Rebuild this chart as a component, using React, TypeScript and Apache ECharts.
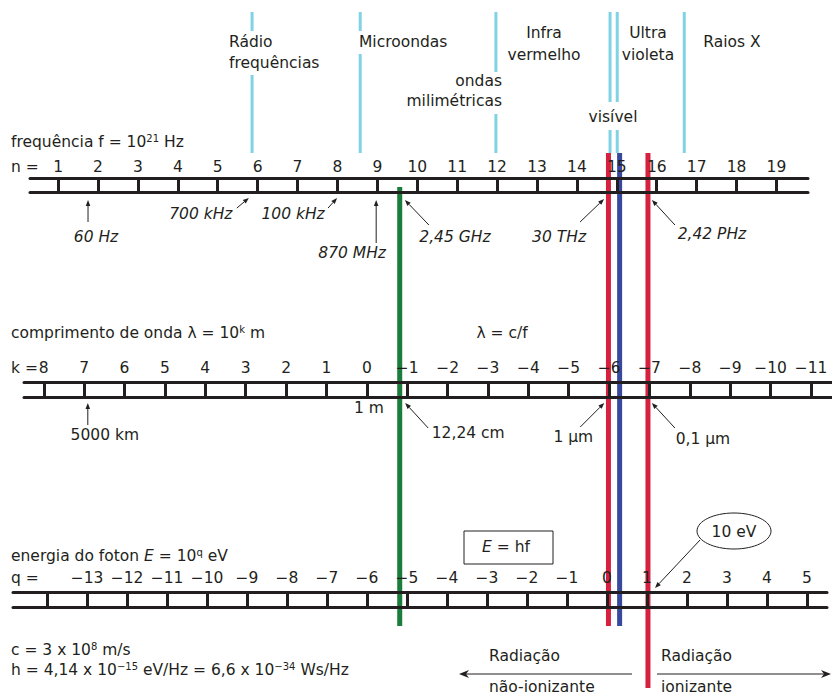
import React, { useEffect, useRef } from "react";
import * as echarts from "echarts";

// ---- data ----
const nTicks = [1, 2, 3, 4, 5, 6, 7, 8, 9, 10, 11, 12, 13, 14, 15, 16, 17, 18, 19];
const nLabels = [1, 2, 3, 4, 5, 6, 7, 8, 9, 10, 11, 12, 13, 14, 15, 16, 17, 18, 19];
const kTicks = [8, 7, 6, 5, 4, 3, 2, 1, 0, -1, -2, -3, -4, -5, -6, -7, -8, -9, -10, -11];
const kLabels = [8, 7, 6, 5, 4, 3, 2, 1, 0, -1, -2, -3, -4, -5, -6, -7, -8, -9, -10, -11];
const qTicks = [-14, -13, -12, -11, -10, -9, -8, -7, -6, -5, -4, -3, -2, -1, 0, 1, 2, 3, 4, 5];
const qLabels = [-13, -12, -11, -10, -9, -8, -7, -6, -5, -4, -3, -2, -1, 0, 1, 2, 3, 4, 5];

// band boundaries (cyan) on the frequency scale, in n
const bandBoundsN = [5.86, 8.57, 11.97, 14.83, 15.01, 16.69];
// highlighted lines, in n
const greenLineN = 9.56;
const redLinesN = [14.79, 15.78];
const blueLineN = 15.07;

const freqMarks = [
  { label: "60 Hz", n: 1.75 },
  { label: "700 kHz", n: 5.78 },
  { label: "100 kHz", n: 7.99 },
  { label: "870 MHz", n: 8.97 },
  { label: "2,45 GHz", n: 9.69 },
  { label: "30 THz", n: 14.68 },
  { label: "2,42 PHz", n: 15.88 },
];
const waveMarks = [
  { label: "5000 km", k: 6.91 },
  { label: "1 m", k: 0 },
  { label: "12,24 cm", k: -0.95 },
  { label: "1 μm", k: -5.88 },
  { label: "0,1 μm", k: -7.06 },
];
const energyMarks = [{ label: "10 eV", q: 1.2 }];

// ---- styles ----
const INK = "#231f20";
const CYAN = "#7fd3e5";
const RED = "#d6203f";
const BLUE = "#38489c";
const GREEN = "#1a7d3c";
const FONT = "DejaVu Sans";
const FS = 15.5;

const fmt = (v: number) => (v < 0 ? "\u2212" + Math.abs(v) : String(v));

function rulerAxis(gridIndex: number, min: number, max: number, inverse: boolean, ticks: number[], h: number) {
  return {
    type: "value",
    gridIndex,
    min,
    max,
    inverse,
    position: "bottom",
    z: 3,
    axisLine: { show: true, onZero: false, lineStyle: { color: INK, width: 3 } },
    axisTick: { show: true, inside: true, length: h, customValues: ticks, lineStyle: { color: INK, width: 3 } },
    axisLabel: { show: false },
    splitLine: { show: false },
  };
}
function labelAxis(gridIndex: number, min: number, max: number, inverse: boolean, labels: number[], margin: number) {
  return {
    type: "value",
    gridIndex,
    min,
    max,
    inverse,
    position: "top",
    z: 3,
    axisLine: { show: true, onZero: false, lineStyle: { color: INK, width: 3 } },
    axisTick: { show: false },
    axisLabel: {
      show: true,
      customValues: labels,
      formatter: (v: number) => fmt(v),
      margin,
      color: INK,
      fontFamily: FONT,
      fontSize: FS,
      lineHeight: 16,
    },
    splitLine: { show: false },
  };
}

const richBase = {
  sup: { fontSize: 10, fontFamily: FONT, fill: INK, color: INK, verticalAlign: "top", lineHeight: 10 },
  it: { fontSize: FS, fontFamily: FONT, fontStyle: "italic", fill: INK, color: INK, lineHeight: 18 },
};

function txt(text: string, x: number, y: number, align = "center", extra: any = {}) {
  return {
    type: "text",
    x,
    y,
    z: 20,
    style: {
      text,
      fill: INK,
      fontFamily: FONT,
      fontSize: FS,
      lineHeight: 18,
      align,
      verticalAlign: "middle",
      rich: richBase,
      ...extra,
    },
  };
}

function arrow(x1: number, y1: number, x2: number, y2: number, head = 6, half = 2.3, notch = 0) {
  const a = Math.atan2(y2 - y1, x2 - x1);
  const c = Math.cos(a), s = Math.sin(a);
  const bx = x2 - head * c, by = y2 - head * s;
  const nx = -s * half, ny = c * half;
  const ix = x2 - (head - notch) * c, iy = y2 - (head - notch) * s;
  return [
    { type: "line", z: 15, shape: { x1, y1, x2: ix, y2: iy }, style: { stroke: INK, lineWidth: 1 } },
    {
      type: "polygon",
      z: 15,
      shape: { points: [[x2, y2], [bx + nx, by + ny], [ix, iy], [bx - nx, by - ny]] },
      style: { fill: INK },
    },
  ];
}

export default function App() {
  const ref = useRef<HTMLDivElement>(null);
  useEffect(() => {
    if (!ref.current) return;
    const chart = echarts.init(ref.current, null, { renderer: "svg" });
    const nMin = 0.296, nMax = 19.79;
    const kMin = -11.52, kMax = 8.49;
    const qMin = -14.85, qMax = 5.5;
    chart.setOption({
      animation: false,
      backgroundColor: "#ffffff",
      grid: [
        { left: 30, top: 178, width: 778, height: 14, show: false },
        { left: 24, top: 382, width: 808, height: 15, show: false },
        { left: 13, top: 592, width: 814, height: 15, show: false },
      ],
      xAxis: [
        rulerAxis(0, nMin, nMax, false, nTicks, 14),
        labelAxis(0, nMin, nMax, false, nLabels, 3),
        rulerAxis(1, kMin, kMax, true, kTicks, 15),
        labelAxis(1, kMin, kMax, true, kLabels, 6),
        rulerAxis(2, qMin, qMax, false, qTicks, 15),
        labelAxis(2, qMin, qMax, false, qLabels, 6),
      ],
      yAxis: [
        { type: "value", gridIndex: 0, show: false, min: 0, max: 1 },
        { type: "value", gridIndex: 1, show: false, min: 0, max: 1 },
        { type: "value", gridIndex: 2, show: false, min: 0, max: 1 },
      ],
      series: [],
    });

    const X = (axisIndex: number, v: number) => chart.convertToPixel({ xAxisIndex: axisIndex } as any, v) as number;
    const els: any[] = [];

    // cyan band boundaries (segments leave room for the band names)
    const cyanSegs = [
      [[12, 31], [75, 153]],
      [[12, 31], [54, 153]],
      [[12, 72], [114, 153]],
      [[12, 102], [130, 153]],
      [[12, 102], [130, 153]],
      [[12, 153]],
    ];
    bandBoundsN.forEach((n, i) => {
      const x = X(0, n);
      cyanSegs[i].forEach(([a, b]) =>
        els.push({ type: "line", z: 1, shape: { x1: x, y1: a, x2: x, y2: b }, style: { stroke: CYAN, lineWidth: 3 } })
      );
    });

    // highlighted vertical lines
    const vline = (n: number, y1: number, y2: number, color: string) => {
      const x = X(0, n);
      els.push({ type: "line", z: 1, shape: { x1: x, y1, x2: x, y2 }, style: { stroke: color, lineWidth: 5 } });
    };
    vline(greenLineN, 187, 626, GREEN);
    vline(redLinesN[0], 153, 626, RED);
    vline(blueLineN, 153, 626, BLUE);
    vline(redLinesN[1], 153, 688, RED);

    // band names
    els.push(txt("Rádio", 229, 42, "left"));
    els.push(txt("frequências", 229, 63, "left"));
    els.push(txt("Microondas", 359, 42, "left"));
    els.push(txt("Infra", 544, 33));
    els.push(txt("vermelho", 544, 55));
    els.push(txt("ondas", 502, 81, "right"));
    els.push(txt("milimétricas", 502, 101, "right"));
    els.push(txt("visível", 613, 117));
    els.push(txt("Ultra", 648, 33));
    els.push(txt("violeta", 648, 55));
    els.push(txt("Raios X", 732, 42));

    // scale titles
    els.push(txt("frequência f = 10{sup|21} Hz", 11, 142, "left"));
    els.push(txt("n =", 11, 167, "left"));
    els.push(txt("comprimento de onda λ = 10{sup|k} m", 11, 333, "left"));
    els.push(txt("λ = c/f", 502, 333));
    els.push(txt("k =", 11, 368, "left"));
    els.push(txt("energia do foton {it|E} = 10{sup|q} eV", 11, 556, "left"));
    els.push(txt("q =", 11, 578, "left"));

    // frequency annotations: [tail dx, dy], [text dx, dy] relative to tip
    const fLayout = [
      { tail: [0, 22], text: [8, 37] },
      { tail: [-12, 10], text: [-48, 16] },
      { tail: [-9, 10], text: [-44, 16] },
      { tail: [0, 43], text: [-24, 53] },
      { tail: [24, 25], text: [50, 37] },
      { tail: [-24, 23], text: [-45, 38] },
      { tail: [23, 25], text: [60, 34] },
    ];
    const fTipY = [200, 198, 198, 200, 200, 199, 200];
    freqMarks.forEach((m, i) => {
      const tx = X(0, m.n), ty = fTipY[i];
      const L = fLayout[i];
      els.push(...arrow(tx + L.tail[0], ty + L.tail[1], tx, ty));
      els.push(txt(m.label, tx + L.text[0], ty + L.text[1], "center", { fontStyle: "italic" }));
    });

    // wavelength annotations
    const wLayout: any[] = [
      { tail: [0, 22], text: [17, 32] },
      { tail: null, text: [2, 5] },
      { tail: [23, 25], text: [63, 30] },
      { tail: [-24, 24], text: [-31, 34] },
      { tail: [23, 25], text: [51, 36] },
    ];
    waveMarks.forEach((m, i) => {
      const tx = X(2, m.k), ty = 403;
      const L = wLayout[i];
      if (L.tail) els.push(...arrow(tx + L.tail[0], ty + L.tail[1], tx, ty));
      els.push(txt(m.label, tx + L.text[0], ty + L.text[1]));
    });

    // energy annotation (10 eV)
    energyMarks.forEach((m) => {
      const tx = X(4, m.q), ty = 588;
      els.push(...arrow(tx + 45, ty - 48, tx, ty));
      els.push({
        type: "ellipse",
        z: 12,
        shape: { cx: tx + 79, cy: 531, rx: 37, ry: 18 },
        style: { fill: "#ffffff", stroke: INK, lineWidth: 1 },
      });
      els.push(txt(m.label, tx + 79, 532));
    });

    // E = hf box
    els.push({ type: "rect", z: 12, shape: { x: 464, y: 531, width: 89, height: 33 }, style: { fill: "none", stroke: INK, lineWidth: 1 } });
    els.push(txt("{it|E} = hf", 506, 547));

    // constants
    els.push(txt("c = 3 x 10{sup|8} m/s", 11, 650, "left"));
    els.push(txt("h = 4,14 x 10{sup|\u221215} eV/Hz = 6,6 x 10{sup|\u221234} Ws/Hz", 11, 670, "left"));

    // ionizing / non-ionizing
    els.push(txt("Radiação", 489, 656, "left"));
    els.push(txt("não-ionizante", 489, 687, "left"));
    els.push(txt("Radiação", 661, 656, "left"));
    els.push(txt("ionizante", 661, 687, "left"));
    els.push(...arrow(632, 674, 459, 674, 10, 4, 3));
    els.push(...arrow(657, 674, 831, 674, 10, 4, 3));

    chart.setOption({ graphic: { elements: els } });

    return () => chart.dispose();
  }, []);

  return <div ref={ref} style={{ position: "absolute", left: 0, top: 0, width: 832, height: 697, background: "#fff" }} />;
}
